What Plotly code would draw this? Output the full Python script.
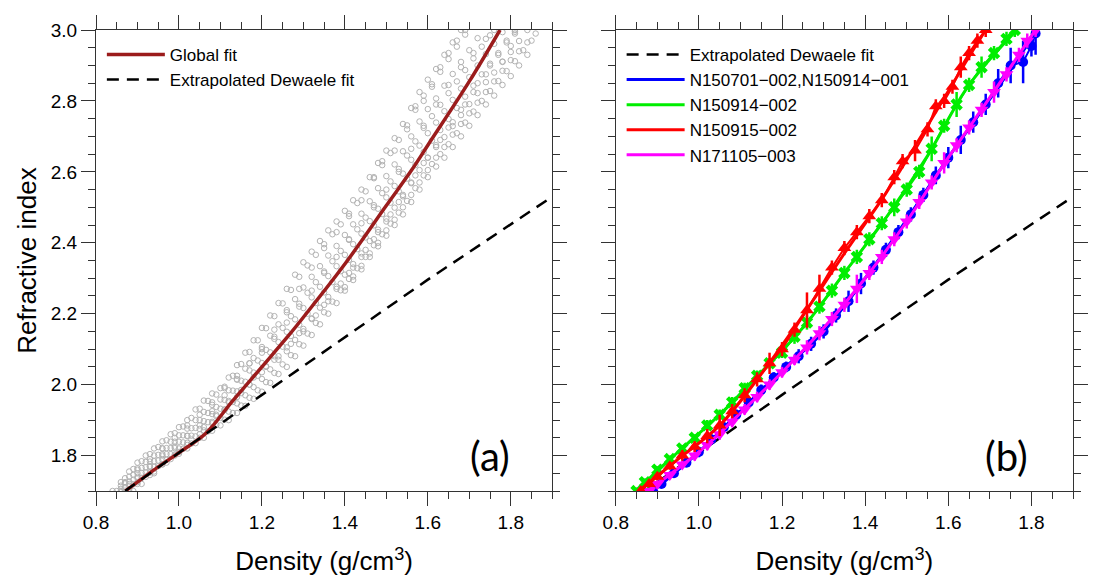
import plotly.graph_objects as go

# ---------------- Panel (a) : all measurements (grey) ----------------
gray_density = [0.84, 0.86, 0.88, 0.90, 0.92, 0.94, 0.96, 0.98, 1.00, 1.02,
                1.04, 1.06, 1.08, 1.10, 1.12, 1.14, 1.16, 1.18, 1.20, 1.22,
                1.24, 1.26, 1.28, 1.30, 1.32, 1.34, 1.36, 1.38, 1.40, 1.42,
                1.44, 1.46, 1.48, 1.50, 1.52, 1.54, 1.56, 1.58, 1.60, 1.62,
                1.64, 1.66, 1.68, 1.70, 1.72, 1.74, 1.76, 1.78, 1.80, 1.82,
                1.84, 1.86, 1.88]

gray_band_1 = [1.70, 1.725, 1.755, 1.78, 1.80, 1.82, 1.84, 1.86, 1.88, 1.90,
               1.93, 1.955, 1.975, 1.99, 2.02, 2.055, 2.09, 2.125, 2.16, 2.195,
               2.23, 2.27, 2.31, 2.345, 2.375, 2.405, 2.435, 2.46, 2.49, 2.52,
               2.55, 2.585, 2.625, 2.66, 2.695, 2.735, 2.78, 2.825, 2.86, 2.89,
               2.93, 2.965, 3.0, None, None, None, None, None, None, None,
               None, None, None]

gray_band_2 = [None, 1.715, 1.74, 1.764, 1.782, 1.80, 1.82, 1.839, 1.857, 1.876,
               1.90, 1.923, 1.943, 1.958, 1.984, 2.014, 2.045, 2.075, 2.106, 2.138,
               2.17, 2.204, 2.241, 2.274, 2.304, 2.334, 2.364, 2.391, 2.422, 2.452,
               2.482, 2.517, 2.554, 2.588, 2.621, 2.658, 2.70, 2.742, 2.777, 2.807,
               2.843, 2.876, 2.91, 2.943, 2.977, None, None, None, None, None,
               None, None, None]

gray_band_3 = [None, 1.706, 1.727, 1.75, 1.767, 1.784, 1.804, 1.821, 1.839, 1.856,
               1.878, 1.897, 1.917, 1.932, 1.954, 1.981, 2.008, 2.034, 2.061, 2.091,
               2.12, 2.149, 2.184, 2.216, 2.246, 2.276, 2.306, 2.334, 2.366, 2.396,
               2.426, 2.461, 2.496, 2.528, 2.56, 2.595, 2.634, 2.674, 2.709, 2.739,
               2.771, 2.803, 2.835, 2.867, 2.90, 2.932, 2.961, 2.994, None, None,
               None, None, None]

gray_band_4 = [None, 1.697, 1.715, 1.736, 1.752, 1.768, 1.788, 1.804, 1.82, 1.836,
               1.854, 1.871, 1.891, 1.906, 1.924, 1.947, 1.97, 1.993, 2.016, 2.043,
               2.07, 2.094, 2.126, 2.157, 2.187, 2.217, 2.247, 2.276, 2.31, 2.34,
               2.37, 2.405, 2.437, 2.468, 2.499, 2.531, 2.568, 2.605, 2.64, 2.67,
               2.698, 2.729, 2.76, 2.791, 2.822, 2.853, 2.88, 2.911, 2.938, 2.969,
               3.0, None, None]

gray_band_5 = [None, 1.69, 1.705, 1.725, 1.74, 1.755, 1.775, 1.79, 1.805, 1.82,
               1.835, 1.85, 1.87, 1.885, 1.90, 1.92, 1.94, 1.96, 1.98, 2.005,
               2.03, 2.05, 2.08, 2.11, 2.14, 2.17, 2.20, 2.23, 2.265, 2.295,
               2.325, 2.36, 2.39, 2.42, 2.45, 2.48, 2.515, 2.55, 2.585, 2.615,
               2.64, 2.67, 2.70, 2.73, 2.76, 2.79, 2.815, 2.845, 2.87, 2.90,
               2.93, None, None]

gray_band_6 = [None, None, None, None, None, None, None, None, None, None,
               None, None, None, None, None, None, None, None, None, None,
               None, None, None, None, None, None, None, None, 2.275, 2.305,
               2.335, 2.37, 2.40, 2.435, 2.465, 2.50, 2.535, 2.57, 2.605, 2.64,
               2.67, 2.705, 2.735, 2.765, 2.795, 2.825, 2.855, 2.885, 2.915, 2.94,
               2.965, 2.99, None]

# second set of runs, sampled at the intermediate densities
gray_density_b = [0.85, 0.87, 0.89, 0.91, 0.93, 0.95, 0.97, 0.99, 1.01, 1.03,
                  1.05, 1.07, 1.09, 1.11, 1.13, 1.15, 1.17, 1.19, 1.21, 1.23,
                  1.25, 1.27, 1.29, 1.31, 1.33, 1.35, 1.37, 1.39, 1.41, 1.43,
                  1.45, 1.47, 1.49, 1.51, 1.53, 1.55, 1.57, 1.59, 1.61, 1.63,
                  1.65, 1.67, 1.69, 1.71, 1.73, 1.75, 1.77, 1.79, 1.81, 1.83,
                  1.85, 1.87]

gray_band_7 = [None, 1.736, 1.762, 1.784, 1.804, 1.824, 1.843, 1.863, 1.882, 1.906,
               1.932, 1.954, 1.972, 1.994, 2.025, 2.058, 2.092, 2.125, 2.159, 2.193,
               2.229, 2.267, 2.304, 2.336, 2.366, 2.396, 2.424, 2.452, 2.482, 2.512,
               2.545, 2.582, 2.619, 2.653, 2.69, 2.731, 2.775, 2.815, 2.847, 2.882,
               2.918, 2.953, 2.987, None, None, None, None, None, None, None,
               None, None]

gray_band_8 = [None, 1.722, 1.745, 1.765, 1.783, 1.802, 1.821, 1.839, 1.857, 1.877,
               1.90, 1.92, 1.937, 1.957, 1.983, 2.011, 2.04, 2.068, 2.098, 2.129,
               2.16, 2.193, 2.228, 2.259, 2.289, 2.319, 2.348, 2.377, 2.408, 2.438,
               2.471, 2.506, 2.54, 2.573, 2.608, 2.646, 2.686, 2.724, 2.757, 2.789,
               2.822, 2.855, 2.887, 2.92, 2.953, 2.985, None, None, None, None,
               None, None]

gray_band_9 = [None, 1.711, 1.732, 1.751, 1.768, 1.786, 1.804, 1.821, 1.837, 1.856,
               1.875, 1.894, 1.911, 1.929, 1.951, 1.976, 2.00, 2.025, 2.052, 2.08,
               2.107, 2.137, 2.169, 2.20, 2.23, 2.26, 2.289, 2.32, 2.352, 2.382,
               2.415, 2.449, 2.481, 2.513, 2.545, 2.581, 2.619, 2.656, 2.688, 2.718,
               2.749, 2.78, 2.812, 2.843, 2.875, 2.905, 2.935, 2.965, 2.995, None,
               None, None]

gray_band_10 = [None, 1.701, 1.719, 1.737, 1.752, 1.77, 1.788, 1.803, 1.819, 1.834,
                1.85, 1.868, 1.886, 1.901, 1.92, 1.941, 1.963, 1.984, 2.007, 2.033,
                2.057, 2.083, 2.114, 2.144, 2.174, 2.204, 2.234, 2.266, 2.298, 2.328,
                2.36, 2.393, 2.424, 2.454, 2.485, 2.518, 2.554, 2.59, 2.622, 2.65,
                2.678, 2.709, 2.739, 2.77, 2.80, 2.828, 2.856, 2.884, 2.912, 2.943,
                2.97, None]

gray_bands_a = [gray_band_1, gray_band_2, gray_band_3, gray_band_4, gray_band_5, gray_band_6]
gray_bands_b = [gray_band_7, gray_band_8, gray_band_9, gray_band_10]

global_fit_density = [0.871, 0.95, 1.0, 1.065, 1.128, 1.2, 1.262, 1.3, 1.4, 1.5, 1.561, 1.6, 1.7, 1.774]
global_fit_index = [1.70, 1.768, 1.808, 1.863, 1.952, 2.05, 2.135, 2.19, 2.34, 2.505, 2.605, 2.675, 2.855, 3.0]

dewaele_density = [0.87, 1.0, 1.2, 1.4, 1.6, 1.9]
dewaele_index = [1.70, 1.808, 1.971, 2.134, 2.296, 2.53]

# ---------------- Panel (b) : individual experiments ----------------
blue_name = "N150701\u2212002,N150914\u2212001"
green_name = "N150914\u2212002"
red_name = "N150915\u2212002"
magenta_name = "N171105\u2212003"

blue_density = [0.89, 0.91, 0.94, 0.97, 1.00, 1.03, 1.06, 1.09, 1.12, 1.15, 1.18,
                1.21, 1.24, 1.27, 1.30, 1.33, 1.36, 1.39, 1.42, 1.45, 1.48, 1.51,
                1.54, 1.57, 1.60, 1.63, 1.66, 1.69, 1.72, 1.75, 1.78, 1.80, 1.81]
blue_index = [1.70, 1.72, 1.75, 1.78, 1.81, 1.845, 1.88, 1.915, 1.95, 1.985, 2.02,
              2.05, 2.08, 2.115, 2.15, 2.195, 2.235, 2.285, 2.33, 2.38, 2.43, 2.48,
              2.535, 2.59, 2.64, 2.69, 2.74, 2.79, 2.85, 2.90, 2.91, 2.955, 2.99]
blue_err = [0.01, 0.01, 0.01, 0.01, 0.015, 0.015, 0.015, 0.015, 0.015, 0.015, 0.015,
            0.015, 0.02, 0.02, 0.02, 0.02, 0.03, 0.03, 0.02, 0.02, 0.02, 0.02,
            0.02, 0.025, 0.03, 0.04, 0.03, 0.03, 0.04, 0.05, 0.06, 0.03, 0.06]

green_density = [0.85, 0.87, 0.90, 0.93, 0.96, 0.99, 1.02, 1.05, 1.08, 1.11, 1.14,
                 1.17, 1.20, 1.23, 1.26, 1.29, 1.32, 1.35, 1.38, 1.41, 1.44, 1.47,
                 1.50, 1.53, 1.56, 1.59, 1.62, 1.65, 1.68, 1.71, 1.74, 1.76]
green_index = [1.70, 1.725, 1.76, 1.79, 1.82, 1.85, 1.885, 1.915, 1.95, 1.99, 2.025,
               2.06, 2.09, 2.135, 2.175, 2.22, 2.265, 2.315, 2.36, 2.41, 2.455, 2.50,
               2.55, 2.60, 2.665, 2.73, 2.79, 2.845, 2.895, 2.935, 2.975, 3.0]
green_err = [0.01, 0.01, 0.01, 0.01, 0.01, 0.01, 0.015, 0.015, 0.015, 0.015, 0.015,
             0.015, 0.015, 0.02, 0.02, 0.02, 0.02, 0.02, 0.02, 0.02, 0.02, 0.025,
             0.02, 0.02, 0.035, 0.02, 0.035, 0.02, 0.03, 0.02, 0.02, 0.02]

red_density = [0.86, 0.88, 0.90, 0.93, 0.96, 0.99, 1.02, 1.05, 1.08, 1.11, 1.14,
               1.17, 1.20, 1.23, 1.26, 1.29, 1.32, 1.35, 1.38, 1.41, 1.44, 1.47,
               1.49, 1.52, 1.55, 1.57, 1.59, 1.61, 1.63, 1.65, 1.67, 1.69]
red_index = [1.70, 1.72, 1.74, 1.77, 1.80, 1.825, 1.855, 1.885, 1.925, 1.97, 2.015,
             2.06, 2.10, 2.155, 2.21, 2.27, 2.33, 2.385, 2.43, 2.475, 2.52, 2.585,
             2.63, 2.66, 2.72, 2.785, 2.80, 2.84, 2.895, 2.935, 2.97, 3.0]
red_err = [0.01, 0.01, 0.01, 0.01, 0.015, 0.015, 0.02, 0.03, 0.02, 0.02, 0.02,
           0.03, 0.02, 0.02, 0.05, 0.04, 0.02, 0.02, 0.02, 0.02, 0.02, 0.02,
           0.02, 0.03, 0.02, 0.02, 0.02, 0.02, 0.03, 0.02, 0.02, 0.02]

magenta_density = [0.88, 0.90, 0.93, 0.96, 0.99, 1.02, 1.05, 1.08, 1.11, 1.14, 1.17,
                   1.20, 1.23, 1.26, 1.29, 1.32, 1.35, 1.38, 1.41, 1.44, 1.47, 1.50,
                   1.53, 1.56, 1.59, 1.62, 1.65, 1.68, 1.71, 1.74, 1.77, 1.79, 1.81]
magenta_index = [1.70, 1.72, 1.745, 1.775, 1.80, 1.83, 1.86, 1.895, 1.93, 1.965, 2.00,
                 2.035, 2.07, 2.105, 2.145, 2.185, 2.225, 2.27, 2.315, 2.36, 2.41, 2.46,
                 2.515, 2.57, 2.625, 2.675, 2.725, 2.775, 2.825, 2.875, 2.93, 2.97, 3.0]
magenta_err = [0.01, 0.01, 0.01, 0.01, 0.015, 0.015, 0.015, 0.015, 0.015, 0.015, 0.015,
               0.015, 0.015, 0.02, 0.02, 0.02, 0.02, 0.04, 0.02, 0.02, 0.02, 0.02,
               0.02, 0.02, 0.03, 0.02, 0.02, 0.02, 0.03, 0.02, 0.02, 0.02, 0.02]

blue_fit_density = [0.89, 1.0, 1.1, 1.2, 1.3, 1.4, 1.5, 1.6, 1.7, 1.815]
blue_fit_index = [1.70, 1.81, 1.925, 2.04, 2.15, 2.30, 2.465, 2.64, 2.805, 3.0]
green_fit_density = [0.85, 0.95, 1.05, 1.15, 1.25, 1.35, 1.45, 1.55, 1.65, 1.765]
green_fit_index = [1.70, 1.81, 1.915, 2.035, 2.16, 2.315, 2.47, 2.645, 2.845, 3.0]
red_fit_density = [0.855, 0.95, 1.05, 1.15, 1.25, 1.35, 1.45, 1.55, 1.65, 1.69]
red_fit_index = [1.70, 1.79, 1.885, 2.03, 2.195, 2.37, 2.54, 2.73, 2.925, 3.0]
magenta_fit_density = [0.875, 1.0, 1.1, 1.2, 1.3, 1.4, 1.5, 1.6, 1.7, 1.81]
magenta_fit_index = [1.70, 1.81, 1.92, 2.035, 2.16, 2.30, 2.46, 2.64, 2.81, 3.0]

panel_labels = ["(a)", "(b)"]

# ---------------- styles ----------------
GRAY = "#b3b3b3"
BLUE = "#0000ff"
GREEN = "#00ee00"
RED = "#ff0000"
MAGENTA = "#ff00ff"
DARKRED = "#9b1c1c"
FONT = "Liberation Sans, Arial, sans-serif"

fig = go.Figure()

# grey clouds in panel (a)
gray_marker = dict(symbol="circle-open", size=5.5, color=GRAY, line=dict(width=1, color=GRAY))
for band in gray_bands_a:
    fig.add_trace(go.Scatter(x=gray_density, y=band, mode="markers", marker=gray_marker,
                             showlegend=False, hoverinfo="skip", xaxis="x", yaxis="y"))
for band in gray_bands_b:
    fig.add_trace(go.Scatter(x=gray_density_b, y=band, mode="markers", marker=gray_marker,
                             showlegend=False, hoverinfo="skip", xaxis="x", yaxis="y"))
for dx, dy in [(red_density, red_index), (green_density, green_index),
               (blue_density, blue_index), (magenta_density, magenta_index)]:
    fig.add_trace(go.Scatter(x=dx, y=dy, mode="markers", marker=gray_marker,
                             showlegend=False, hoverinfo="skip", xaxis="x", yaxis="y"))

# global fit and Dewaele in panel (a)
fig.add_trace(go.Scatter(x=global_fit_density, y=global_fit_index, mode="lines",
                         line=dict(color=DARKRED, width=3.5, shape="spline"),
                         name="Global fit", legend="legend", xaxis="x", yaxis="y"))
fig.add_trace(go.Scatter(x=dewaele_density, y=dewaele_index, mode="lines",
                         line=dict(color="black", width=2.5, dash="12px,8px"),
                         name="Extrapolated Dewaele fit", legend="legend", xaxis="x", yaxis="y"))

# panel (b)
fig.add_trace(go.Scatter(x=dewaele_density, y=dewaele_index, mode="lines",
                         line=dict(color="black", width=2.5, dash="12px,8px"),
                         name="Extrapolated Dewaele fit", legend="legend2", legendrank=1,
                         xaxis="x2", yaxis="y2"))

series = [
    (blue_density, blue_index, blue_err, blue_fit_density, blue_fit_index, BLUE, "circle", 10, blue_name, 2),
    (magenta_density, magenta_index, magenta_err, magenta_fit_density, magenta_fit_index, MAGENTA, "triangle-down", 12, magenta_name, 5),
    (green_density, green_index, green_err, green_fit_density, green_fit_index, GREEN, "x", 11, green_name, 3),
    (red_density, red_index, red_err, red_fit_density, red_fit_index, RED, "triangle-up", 12, red_name, 4),
]
for dx, dy, de, fx, fy, col, sym, sz, nm, rank in series:
    fig.add_trace(go.Scatter(x=dx, y=dy, mode="lines+markers",
                             line=dict(color=col, width=2),
                             marker=dict(symbol=sym, size=sz, color=col, line=dict(width=0)),
                             error_y=dict(type="data", array=de, visible=True, color=col,
                                          thickness=2.5, width=0),
                             showlegend=False, hoverinfo="skip", xaxis="x2", yaxis="y2"))
    fig.add_trace(go.Scatter(x=fx, y=fy, mode="lines",
                             line=dict(color=col, width=3, shape="spline"),
                             name=nm, legend="legend2", legendrank=rank,
                             xaxis="x2", yaxis="y2"))

# ---------------- axes ----------------
tick_col = "#333333"
common = dict(showline=True, linecolor=tick_col, linewidth=1, mirror="ticks",
              ticks="outside", ticklen=14, tickwidth=1, tickcolor=tick_col,
              showgrid=False, zeroline=False,
              tickfont=dict(family=FONT, size=19, color="black"),
              minor=dict(ticks="outside", ticklen=7, dtick=0.05, tickwidth=1,
                         tickcolor=tick_col, showgrid=False))

xa = dict(common, range=[0.8, 1.9], tick0=0.8, dtick=0.2, tickformat=".1f",
          title=dict(text="Density (g/cm<sup>3</sup>)", font=dict(family=FONT, size=26, color="black"),
                     standoff=20))
ya = dict(common, range=[1.7, 3.0], tick0=1.8, dtick=0.2, tickformat=".1f")

legend_common = dict(yanchor="top", xanchor="left", bgcolor="rgba(0,0,0,0)",
                     font=dict(family=FONT, size=17, color="black"), itemwidth=58,
                     tracegroupgap=0)

fig.update_layout(
    width=1096, height=582,
    margin=dict(l=96, r=8, t=30, b=91),
    paper_bgcolor="white", plot_bgcolor="white",
    font=dict(family=FONT, size=16, color="black"),
    xaxis=dict(xa, domain=[0, 0.467], anchor="y"),
    yaxis=dict(ya, domain=[0, 1], anchor="x",
               title=dict(text="Refractive index", font=dict(family=FONT, size=26, color="black"),
                          standoff=6)),
    xaxis2=dict(xa, domain=[0.532, 1.0], anchor="y2"),
    yaxis2=dict(ya, domain=[0, 1], anchor="x2", showticklabels=False),
    legend=dict(legend_common, x=0.006, y=0.985),
    legend2=dict(legend_common, x=0.538, y=0.985),
    annotations=[
        dict(text=panel_labels[0], x=1.749, y=1.80, xref="x", yref="y", showarrow=False,
             font=dict(family="Lato, Open Sans, sans-serif", size=40, color="black")),
        dict(text=panel_labels[1], x=1.74, y=1.80, xref="x2", yref="y2", showarrow=False,
             font=dict(family="Lato, Open Sans, sans-serif", size=40, color="black")),
    ],
    showlegend=True,
)

fig.write_html("out.html")
